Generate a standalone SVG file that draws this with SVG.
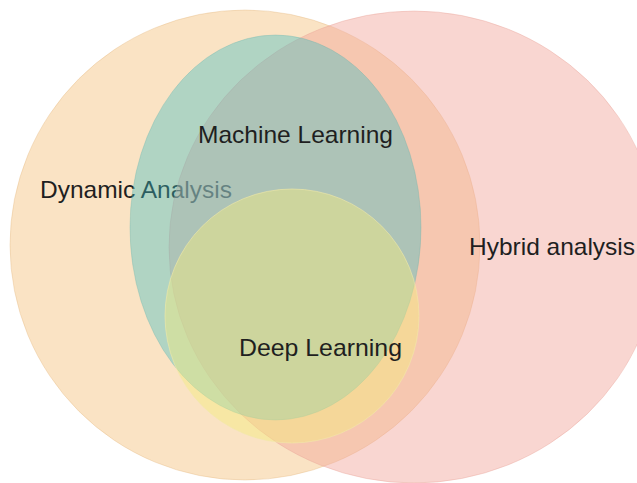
<svg xmlns="http://www.w3.org/2000/svg" width="637" height="483" viewBox="0 0 637 483">
  <style>
    .set { stroke-width: 1; }
    .dyn { fill: #F5C789; fill-opacity: 0.5; stroke: #E2B57A; stroke-opacity: 0.35; }
    .hyb { fill: #F2A499; fill-opacity: 0.45; stroke: #E59A90; stroke-opacity: 0.35; }
    .ml  { fill: #41BEC3; fill-opacity: 0.4; stroke: #5FAFA8; stroke-opacity: 0.3; }
    .dl  { fill: #F5EA7F; fill-opacity: 0.45; stroke: #F2E9A8; stroke-opacity: 0.6; }
    .label { font-family: "Liberation Sans", Arial, sans-serif; font-size: 24px; fill: #1f1f1f; }
  </style>
  <rect width="637" height="483" fill="#ffffff"/>

  <!-- Each set is drawn with its own label, so later sets tint earlier labels -->
  <g id="dynamic-analysis">
    <circle class="set dyn" cx="245" cy="245" r="235"/>
    <text class="label" x="40" y="198" textLength="192" lengthAdjust="spacingAndGlyphs">Dynamic Analysis</text>
  </g>

  <g id="hybrid-analysis">
    <ellipse class="set hyb" cx="414" cy="247" rx="245" ry="236"/>
    <text class="label" x="469" y="255" textLength="166" lengthAdjust="spacingAndGlyphs">Hybrid analysis</text>
  </g>

  <g id="machine-learning">
    <ellipse class="set ml" cx="275.5" cy="227.5" rx="145.5" ry="192.5"/>
    <text class="label" x="198" y="143" textLength="195" lengthAdjust="spacingAndGlyphs">Machine Learning</text>
  </g>

  <g id="deep-learning">
    <circle class="set dl" cx="292" cy="316" r="127"/>
    <text class="label" x="239" y="356" textLength="163" lengthAdjust="spacingAndGlyphs">Deep Learning</text>
  </g>
</svg>
